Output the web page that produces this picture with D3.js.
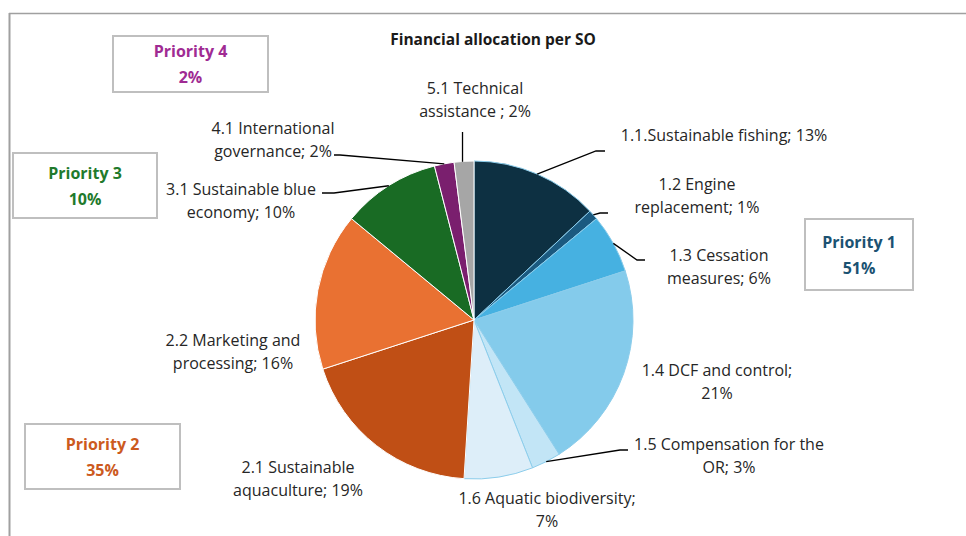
<!DOCTYPE html>
<html>
<head>
<meta charset="utf-8">
<script src="https://cdn.jsdelivr.net/npm/d3@7"></script>
<style>
  html, body { margin: 0; padding: 0; background: #ffffff; }
  svg { display: block; font-family: "Open Sans", "Noto Sans", sans-serif; }
</style>
</head>
<body>
<svg id="chart" width="966" height="536"></svg>
<script>
// Specific objectives and their share of the financial allocation (%)
const codes = ["1.1", "1.2", "1.3", "1.4", "1.5", "1.6", "2.1", "2.2", "3.1", "4.1", "5.1"];
const labelLines = [
  ["1.1.Sustainable fishing; 13%"],
  ["1.2 Engine", "replacement; 1%"],
  ["1.3 Cessation", "measures; 6%"],
  ["1.4 DCF and control;", "21%"],
  ["1.5 Compensation for the", "OR; 3%"],
  ["1.6 Aquatic biodiversity;", "7%"],
  ["2.1 Sustainable", "aquaculture; 19%"],
  ["2.2 Marketing and", "processing; 16%"],
  ["3.1 Sustainable blue", "economy; 10%"],
  ["4.1 International", "governance; 2%"],
  ["5.1 Technical", "assistance ; 2%"]
];
const shares = [13, 1, 6, 21, 3, 7, 19, 16, 10, 2, 2];
const sliceColors = ["#0d3042", "#1b5a80", "#46b1e1", "#84cbeb", "#c2e5f6", "#ddeef9",
                     "#c04f15", "#e97132", "#196b24", "#7a1f6e", "#a6a6a6"];

// Priority totals
const priorityNames = ["Priority 1", "Priority 2", "Priority 3", "Priority 4"];
const priorityShares = [51, 35, 10, 2];
const priorityColors = ["#1b5272", "#cc5a1e", "#1f7a2c", "#a02b93"];

const title = "Financial allocation per SO";

// ---- layout ----
const W = 966, H = 536;
const cx = 474, cy = 320, R = 159;
const lineGap = 23;

// label centre positions (x, y of first line)
const labelPos = [
  [724, 135], [697, 184], [719, 255], [717, 370], [729, 444], [547, 498],
  [298, 467], [233, 340], [241, 189], [273, 128], [475, 88]
];
// leader-line anchor points on the label side (empty = no leader)
const leaderPts = [
  [[605, 151], [596, 151]],
  [[608, 213], [600, 213]],
  [[645, 260], [637, 260]],
  [],
  [[628, 450], [620, 450]],
  [],
  [],
  [],
  [[322, 193], [334, 193]],
  [[334, 155], [340, 155]],
  "vertical"
];
// priority boxes: [x, y, w, h]
const boxes = [
  [805, 219, 108, 71],
  [25, 424, 155, 65],
  [13, 153, 144, 65],
  [113, 36, 155, 56]
];

const svg = d3.select("#chart");

// outer frame (top and left edges visible)
svg.append("line").attr("x1", 9).attr("x2", W).attr("y1", 13.5).attr("y2", 13.5)
  .attr("stroke", "#a0a0a0").attr("stroke-width", 1.5);
svg.append("line").attr("x1", 9.5).attr("x2", 9.5).attr("y1", 13).attr("y2", H)
  .attr("stroke", "#a0a0a0").attr("stroke-width", 2);

// title
svg.append("text").attr("x", 493).attr("y", 45).attr("text-anchor", "middle")
  .attr("font-size", 15.5).attr("font-weight", 700).attr("fill", "#1a1a1a")
  .text(title);

const data = codes.map((c, i) => ({ code: c, value: shares[i], i }));
const pie = d3.pie().sort(null).value(d => d.value).startAngle(0).endAngle(2 * Math.PI);
const arcs = pie(data);
const arc = d3.arc().innerRadius(0).outerRadius(R);

const g = svg.append("g").attr("transform", `translate(${cx},${cy})`);
g.selectAll("path.slice").data(arcs).join("path")
  .attr("class", "slice")
  .attr("d", arc)
  .attr("fill", d => sliceColors[d.data.i])
  .attr("stroke", d => d.data.code[0] === "1" ? "#8ccdeb" : "#ffffff")
  .attr("stroke-width", 1);

// point on the rim at each slice's mid angle
function rimPoint(d) {
  const a = (d.startAngle + d.endAngle) / 2;
  return [cx + R * Math.sin(a), cy - R * Math.cos(a)];
}

// leader lines
const leaderG = svg.append("g").attr("fill", "none").attr("stroke", "#000").attr("stroke-width", 1.3);
arcs.forEach((d, i) => {
  const lp = leaderPts[i];
  const p = rimPoint(d);
  if (lp === "vertical") {
    leaderG.append("path").attr("d", d3.line()([[p[0] - 1.5, 132], [p[0] - 1.5, p[1] + 0.5]]));
  } else if (lp.length) {
    leaderG.append("path").attr("d", d3.line()([lp[0], lp[1], p]));
  }
});

// slice labels
const lblG = svg.append("g").attr("font-size", 16).attr("fill", "#262626").attr("text-anchor", "middle");
labelLines.forEach((lines, i) => {
  const t = lblG.append("text").attr("x", labelPos[i][0]).attr("y", labelPos[i][1] + 5.5);
  lines.forEach((ln, k) => {
    t.append("tspan").attr("x", labelPos[i][0]).attr("dy", k === 0 ? 0 : lineGap).text(ln);
  });
});

// priority boxes
priorityNames.forEach((name, i) => {
  const [x, y, w, h] = boxes[i];
  const bg = svg.append("g");
  bg.append("rect").attr("x", x).attr("y", y).attr("width", w).attr("height", h)
    .attr("fill", "#fff").attr("stroke", "#bfbfbf").attr("stroke-width", 2);
  const midX = x + w / 2;
  const t = bg.append("text").attr("text-anchor", "middle").attr("font-size", 16)
    .attr("font-weight", 700).attr("fill", priorityColors[i]);
  t.append("tspan").attr("x", midX).attr("y", y + h / 2 - 7).text(name);
  t.append("tspan").attr("x", midX).attr("y", y + h / 2 + 19).text(priorityShares[i] + "%");
});
</script>
</body>
</html>
